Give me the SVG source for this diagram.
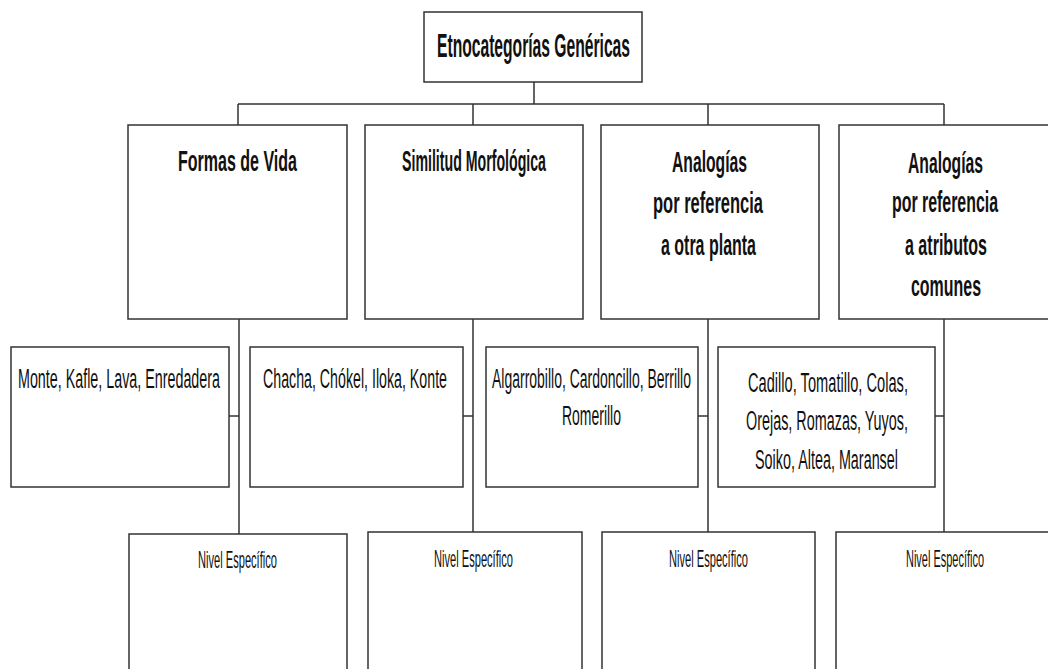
<svg xmlns="http://www.w3.org/2000/svg" width="1048" height="669" viewBox="0 0 1048 669">
<style>
.box{fill:#fff;stroke:#333;stroke-width:1.5}
.ln{fill:none;stroke:#333;stroke-width:1.5}
text{font-family:"Liberation Sans Narrow","Liberation Sans",Arial,sans-serif;fill:#111;text-anchor:middle}
.t0{font-size:34px;font-weight:bold}
.t1{font-size:29px;font-weight:bold}
.t2{font-size:28px}
.t3{font-size:23px}
</style>
<rect width="1048" height="669" fill="#fff"/>
<g id="connectors">
<path class="ln" d="M534 82V104M238 104H944M238 104V125M473 104V125M708 104V125M944 104V125"/>
<path class="ln" d="M239 319V534M473 319V532M708 319V532M944 319V532"/>
<path class="ln" d="M229 416H239M463 416H473M698 416H708M935 416H944"/>
</g>
<g id="root">
<rect class="box" x="424" y="12" width="218" height="70"/>
<text class="t0" transform="scale(0.6 1)" x="889.17" y="57" textLength="321.67" lengthAdjust="spacingAndGlyphs">Etnocategorías Genéricas</text>
</g>
<g id="formas">
<rect class="box" x="128" y="125" width="219" height="194"/>
<text class="t1" transform="scale(0.6 1)" x="395.83" y="171" textLength="198.33" lengthAdjust="spacingAndGlyphs">Formas de Vida</text>
</g>
<g id="similitud">
<rect class="box" x="365" y="125" width="218" height="194"/>
<text class="t1" transform="scale(0.6 1)" x="790" y="171" textLength="240" lengthAdjust="spacingAndGlyphs">Similitud Morfológica</text>
</g>
<g id="analogias-planta">
<rect class="box" x="601" y="125" width="218" height="194"/>
<g transform="scale(0.6 1)">
<text class="t1" x="1182.5" y="172" textLength="125" lengthAdjust="spacingAndGlyphs">Analogías</text>
<text class="t1" x="1180" y="213" textLength="183.33" lengthAdjust="spacingAndGlyphs">por referencia</text>
<text class="t1" x="1180.83" y="255" textLength="158.33" lengthAdjust="spacingAndGlyphs">a otra planta</text>
</g>
</g>
<g id="analogias-atributos">
<rect class="box" x="839" y="125" width="220" height="194"/>
<g transform="scale(0.6 1)">
<text class="t1" x="1575.83" y="173" textLength="125" lengthAdjust="spacingAndGlyphs">Analogías</text>
<text class="t1" x="1575" y="212" textLength="176.67" lengthAdjust="spacingAndGlyphs">por referencia</text>
<text class="t1" x="1576.67" y="255" textLength="136.67" lengthAdjust="spacingAndGlyphs">a atributos</text>
<text class="t1" x="1576.67" y="296" textLength="116.67" lengthAdjust="spacingAndGlyphs">comunes</text>
</g>
</g>
<g id="ej-formas">
<rect class="box" x="11" y="347" width="218" height="140"/>
<text class="t2" transform="scale(0.6 1)" x="198.33" y="388" textLength="336.67" lengthAdjust="spacingAndGlyphs">Monte, Kafle, Lava, Enredadera</text>
</g>
<g id="ej-similitud">
<rect class="box" x="250" y="347" width="213" height="140"/>
<text class="t2" transform="scale(0.6 1)" x="591.67" y="388" textLength="306.67" lengthAdjust="spacingAndGlyphs">Chacha, Chókel, Iloka, Konte</text>
</g>
<g id="ej-planta">
<rect class="box" x="486" y="347" width="212" height="140"/>
<g transform="scale(0.6 1)">
<text class="t2" x="985.83" y="388" textLength="331.67" lengthAdjust="spacingAndGlyphs">Algarrobillo, Cardoncillo, Berrillo</text>
<text class="t2" x="985.83" y="425" textLength="98.33" lengthAdjust="spacingAndGlyphs">Romerillo</text>
</g>
</g>
<g id="ej-atributos">
<rect class="box" x="718" y="347" width="217" height="140"/>
<g transform="scale(0.6 1)">
<text class="t2" x="1380" y="392" textLength="266.67" lengthAdjust="spacingAndGlyphs">Cadillo, Tomatillo, Colas,</text>
<text class="t2" x="1378.33" y="430" textLength="270" lengthAdjust="spacingAndGlyphs">Orejas, Romazas, Yuyos,</text>
<text class="t2" x="1377.5" y="469" textLength="238.33" lengthAdjust="spacingAndGlyphs">Soiko, Altea, Maransel</text>
</g>
</g>
<g id="nivel-1">
<rect class="box" x="129" y="534" width="218" height="150"/>
<text class="t3" transform="scale(0.6 1)" x="395.83" y="568" textLength="131.67" lengthAdjust="spacingAndGlyphs">Nivel Específico</text>
</g>
<g id="nivel-2">
<rect class="box" x="368" y="532" width="214" height="150"/>
<text class="t3" transform="scale(0.6 1)" x="789.17" y="567" textLength="131.67" lengthAdjust="spacingAndGlyphs">Nivel Específico</text>
</g>
<g id="nivel-3">
<rect class="box" x="602" y="532" width="213" height="150"/>
<text class="t3" transform="scale(0.6 1)" x="1180.83" y="567" textLength="131.67" lengthAdjust="spacingAndGlyphs">Nivel Específico</text>
</g>
<g id="nivel-4">
<rect class="box" x="836" y="532" width="220" height="150"/>
<text class="t3" transform="scale(0.6 1)" x="1575" y="567" textLength="130" lengthAdjust="spacingAndGlyphs">Nivel Específico</text>
</g>
</svg>
